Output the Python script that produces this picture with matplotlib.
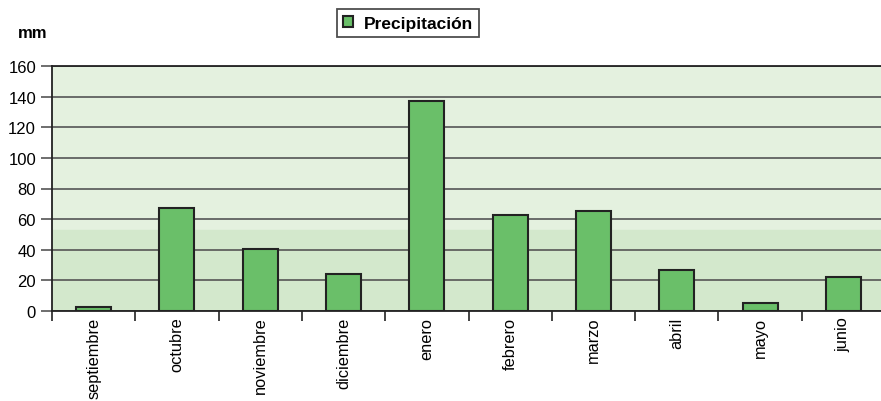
import numpy as np
import matplotlib.pyplot as plt

# Monthly precipitation (mm)
meses = ['septiembre', 'octubre', 'noviembre', 'diciembre', 'enero',
         'febrero', 'marzo', 'abril', 'mayo', 'junio']
precip = [2.5, 67.5, 40.5, 24, 137, 62.5, 65.5, 26.5, 5, 22.5]
yticks = [0, 20, 40, 60, 80, 100, 120, 140, 160]

fig = plt.figure(figsize=(8.81, 4.02), dpi=100)
ax = fig.add_axes([52/881, 1 - 312/402, 833/881, 245/402])

x = np.arange(len(meses))
ax.set_xlim(-0.5, len(meses) - 0.5)
ax.set_ylim(0, 160)

# background: lighter upper part, solid band at the bottom
ax.set_facecolor('#e4f1df')
ax.axhspan(0, 53, color='#d3e8cc', zorder=0)

ax.set_yticks(yticks)
ax.yaxis.grid(True, color='#555555', linewidth=1.2, zorder=1)
ax.set_axisbelow(True)

ax.bar(x, precip, width=0.42, color='#6abf69', edgecolor='#222222',
       linewidth=1.5, zorder=3, label='Precipitación')

# x ticks between categories, labels at the centre
ax.set_xticks(np.arange(len(meses) + 1) - 0.5)
ax.set_xticklabels([])
ax.set_xticks(x, minor=True)
ax.set_xticklabels(meses, minor=True, rotation=90, fontsize=11.8,
                   family='Liberation Sans')
ax.tick_params(axis='x', which='major', length=7, width=1.2, color='#222222')
ax.tick_params(axis='x', which='minor', length=0, pad=4)
ax.tick_params(axis='y', length=8, width=1.2, color='#555555', labelsize=12)
for t in ax.get_yticklabels():
    t.set_family('Liberation Sans')

for s in ['left', 'bottom', 'top']:
    ax.spines[s].set_color('#222222')
    ax.spines[s].set_linewidth(1.3)
ax.spines['right'].set_visible(False)

fig.text(18/881, 1 - 33/402, 'mm', fontsize=12, fontweight='bold',
         family='Liberation Sans', va='center')

leg = fig.legend(loc='center', bbox_to_anchor=(408/881, 1 - 24/402),
                 frameon=True, fancybox=False, handlelength=0.6,
                 handleheight=0.6, handletextpad=0.6, borderpad=0.35,
                 borderaxespad=0,
                 prop={'family': 'Liberation Sans', 'weight': 'bold', 'size': 12.5})
leg.get_frame().set_edgecolor('#222222')
leg.get_frame().set_linewidth(1.3)

fig.savefig('out.png', dpi=100)
